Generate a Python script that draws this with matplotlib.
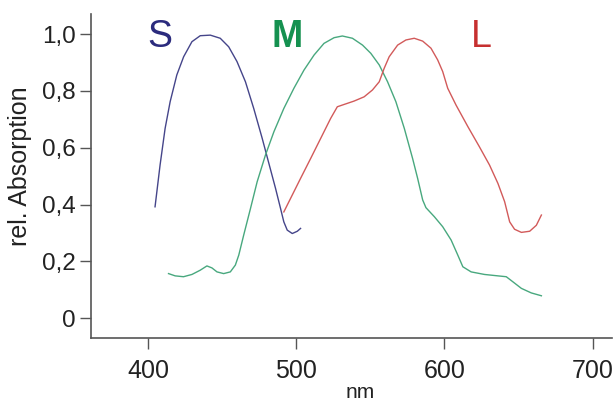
import matplotlib
matplotlib.use("Agg")
import matplotlib.pyplot as plt

plt.rcParams['font.family'] = ['Liberation Sans', 'DejaVu Sans']

# S cone
s_nm = [404.7, 408.1, 411.5, 414.9, 419.4, 424.0, 429.6, 435.2, 442.0, 448.7, 454.4, 460.0,
        465.7, 471.3, 477.0, 481.5, 486.0, 489.4, 491.6, 493.9, 497.3, 500.7, 502.9]
s_val = [0.392, 0.539, 0.668, 0.762, 0.856, 0.920, 0.973, 0.994, 0.996, 0.985, 0.955, 0.903,
         0.832, 0.738, 0.633, 0.545, 0.457, 0.386, 0.339, 0.310, 0.298, 0.306, 0.316]

# M cone
m_nm = [413.8, 418.3, 423.9, 429.6, 435.2, 439.7, 443.1, 446.5, 451.0, 455.5, 458.9, 461.2,
        464.5, 469.1, 473.6, 479.2, 484.9, 491.6, 498.4, 505.2, 512.0, 518.7, 525.5, 531.1,
        537.9, 544.7, 550.3, 556.0, 561.6, 567.2, 572.9, 578.5, 581.9, 585.3, 587.5, 593.2,
        598.8, 604.5, 609.0, 612.4, 618.0, 627.0, 636.1, 641.7, 646.2, 651.9, 658.6, 665.4]
m_val = [0.157, 0.149, 0.146, 0.154, 0.169, 0.184, 0.177, 0.163, 0.157, 0.163, 0.187, 0.222,
         0.292, 0.386, 0.480, 0.574, 0.656, 0.738, 0.809, 0.873, 0.926, 0.967, 0.987, 0.993,
         0.985, 0.961, 0.932, 0.891, 0.832, 0.762, 0.668, 0.562, 0.492, 0.416, 0.389, 0.357,
         0.322, 0.275, 0.222, 0.181, 0.163, 0.154, 0.149, 0.146, 0.128, 0.105, 0.089, 0.079]

# L cone
l_nm = [491.6, 496.1, 502.9, 509.7, 516.5, 523.2, 527.7, 532.2, 539.0, 545.8, 551.4, 556.0,
        559.3, 562.7, 568.4, 574.0, 579.6, 585.3, 590.9, 595.4, 598.8, 602.2, 607.8, 615.8,
        623.6, 630.4, 636.1, 640.6, 644.0, 647.3, 651.9, 657.5, 662.0, 665.4]
l_val = [0.374, 0.421, 0.492, 0.562, 0.633, 0.703, 0.744, 0.752, 0.764, 0.779, 0.803, 0.832,
         0.879, 0.920, 0.961, 0.979, 0.985, 0.975, 0.950, 0.909, 0.868, 0.809, 0.750, 0.674,
         0.603, 0.539, 0.474, 0.410, 0.339, 0.313, 0.302, 0.306, 0.327, 0.363]

x_ticks = [400, 500, 600, 700]
y_ticks = [0, 0.2, 0.4, 0.6, 0.8, 1.0]
y_labels = ['0', '0,2', '0,4', '0,6', '0,8', '1,0']

fig = plt.figure(figsize=(6.15, 4.03), dpi=100)
ax = fig.add_axes([0.148, 0.161, 0.847, 0.804])

ax.plot(s_nm, s_val, color='#45458a', lw=1.0)
ax.plot(m_nm, m_val, color='#48a87e', lw=1.0)
ax.plot(l_nm, l_val, color='#d25a5a', lw=1.0)

ax.text(408, 0.99, 'S', color='#2b2b7d', fontsize=27, ha='center', va='center')
ax.text(493.5, 0.99, 'M', color='#159150', fontsize=27, fontweight='bold', ha='center', va='center')
ax.text(625, 0.99, 'L', color='#c63030', fontsize=27, ha='center', va='center')

ax.set_xlim(361.5, 713)
ax.set_ylim(-0.07, 1.07)
ax.set_xticks(x_ticks)
ax.set_yticks(y_ticks)
ax.set_yticklabels(y_labels)
for sp in ['top', 'right']:
    ax.spines[sp].set_visible(False)
for sp in ['left', 'bottom']:
    ax.spines[sp].set_color('#555555')
    ax.spines[sp].set_linewidth(1.2)
ax.tick_params(axis='both', direction='out', length=8, width=1.0, color='#555555',
               labelcolor='#222222')
ax.tick_params(axis='x', labelsize=18, pad=7)
ax.tick_params(axis='y', labelsize=17.5, pad=3)
ax.set_ylabel('rel. Absorption', fontsize=18, color='#222222')
ax.yaxis.set_label_coords(-0.113, 0.531)
ax.set_xlabel('nm', fontsize=15, color='#222222')
ax.xaxis.set_label_coords(0.516, -0.137)

fig.savefig('out.png', dpi=100)
